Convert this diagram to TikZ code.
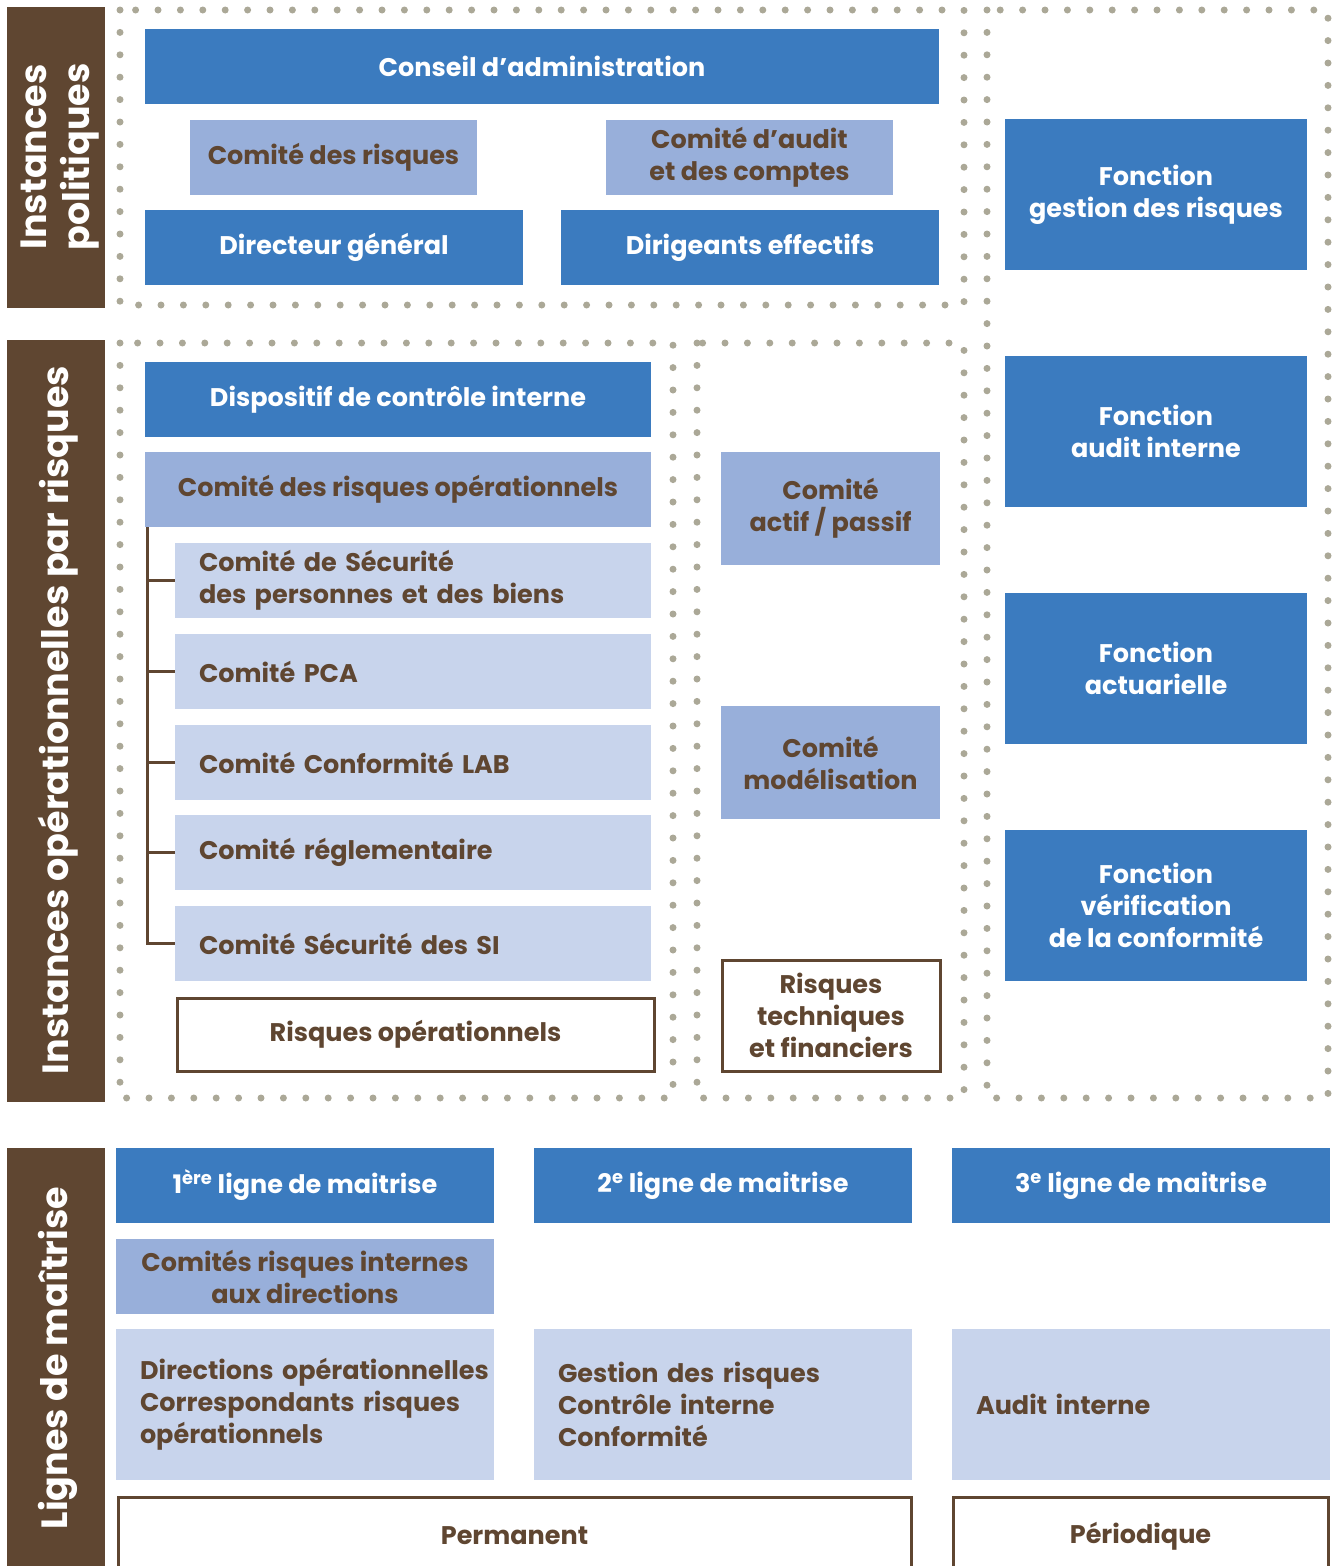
\documentclass[tikz,border=0pt]{standalone}
\usepackage{fontspec}
\setmainfont{Poppins}
\definecolor{dblue}{HTML}{3B7BBF}
\definecolor{mblue}{HTML}{98AFDA}
\definecolor{lblue}{HTML}{C8D4EC}
\definecolor{brn}{HTML}{5F4631}
\definecolor{dotc}{HTML}{ABA897}
\tikzset{
  base/.style={inner sep=0pt, outer sep=0pt, align=center, font=\fontsize{25.5}{32}\selectfont\bfseries},
  dbox/.style={base, fill=dblue, text=white},
  mbox/.style={base, fill=mblue, text=brn},
  lbox/.style={base, fill=lblue, text=brn},
  lboxl/.style={lbox, inner xsep=24pt, align=left},
  obox/.style={base, draw=brn, line width=3pt, fill=white, text=brn},
  bar/.style={fill=brn},
  barlabel/.style={rotate=90, text=white, align=center, font=\fontsize{36.5}{43}\selectfont\bfseries},
  dotframe/.style={draw=dotc, line width=7pt, line cap=round, dash pattern=on 0pt off 22.4pt},
  tree/.style={draw=brn, line width=3pt}
}
\begin{document}
\begin{tikzpicture}[x=1pt,y=-1pt]
\useasboundingbox (0,0) rectangle (1335,1566);
\clip (0,0) rectangle (1335,1566);
% dotted frames
\draw[dotframe] (120,10) rectangle (964,305);
\draw[dotframe] (120,343) rectangle (673,1098);
\draw[dotframe] (697,343) rectangle (964,1098);
\draw[dotframe] (987,10) rectangle (1328,1098);
% side bars
\fill[bar] (7,7) rectangle (105,308);
\fill[bar] (7,340) rectangle (105,1102);
\fill[bar] (7,1148) rectangle (105,1566);
\node[barlabel] (lab1) at (60,157) {Instances\\politiques};
\node[barlabel] (lab2) at (58,720) {Instances opérationnelles par risques};
\node[barlabel] (lab3) at (58,1358) {Lignes de maîtrise};
% instances politiques
\node[dbox, minimum width=794pt, minimum height=75pt] (ca) at (542,66.5) {Conseil d’administration};
\node[mbox, minimum width=287pt, minimum height=75pt] (cr) at (333.5,157.5) {Comité des risques};
\node[mbox, minimum width=287pt, minimum height=75pt] (caud) at (749.5,157.5) {Comité d’audit\\et des comptes};
\node[dbox, minimum width=378pt, minimum height=75pt] (dg) at (334,247.5) {Directeur général};
\node[dbox, minimum width=378pt, minimum height=75pt] (de) at (750,247.5) {Dirigeants effectifs};
% fonctions
\node[dbox, minimum width=302pt, minimum height=151pt] (f1) at (1156,194.5) {Fonction\\gestion des risques};
\node[dbox, minimum width=302pt, minimum height=151pt] (f2) at (1156,431.5) {Fonction\\audit interne};
\node[dbox, minimum width=302pt, minimum height=151pt] (f3) at (1156,668.5) {Fonction\\actuarielle};
\node[dbox, minimum width=302pt, minimum height=151pt] (f4) at (1156,905.5) {Fonction\\vérification\\de la conformité};
% operationnel
\node[dbox, minimum width=506pt, minimum height=75pt] (dci) at (398,399.5) {Dispositif de contrôle interne};
\node[mbox, minimum width=506pt, minimum height=75pt] (cro) at (398,489.5) {Comité des risques opérationnels};
\node[lboxl, text width=428pt, minimum height=75pt] (c1) at (413,580.5) {Comité de Sécurité\\des personnes et des biens};
\node[lboxl, text width=428pt, minimum height=75pt] (c2) at (413,671.5) {Comité PCA};
\node[lboxl, text width=428pt, minimum height=75pt] (c3) at (413,762.5) {Comité Conformité LAB};
\node[lboxl, text width=428pt, minimum height=75pt] (c4) at (413,852.5) {Comité réglementaire};
\node[lboxl, text width=428pt, minimum height=75pt] (c5) at (413,943.5) {Comité Sécurité des SI};
\node[obox, minimum width=477pt, minimum height=73pt] (ro) at (415.5,1034.5) {Risques opérationnels};
\foreach \c in {c1,c2,c3,c4,c5}
  \draw[tree] ([xshift=2pt]cro.south west) |- (\c.west);
\node[mbox, minimum width=219pt, minimum height=113pt] (cap) at (830.5,508.5) {Comité\\actif / passif};
\node[mbox, minimum width=219pt, minimum height=113pt] (cm) at (830.5,762.5) {Comité\\modélisation};
\node[obox, minimum width=218pt, minimum height=111pt] (rtf) at (831,1015.5) {Risques\\techniques\\et financiers};
% lignes de maitrise
\node[dbox, minimum width=378pt, minimum height=75pt] (l1) at (305,1185.5) {1\textsuperscript{ère} ligne de maitrise};
\node[dbox, minimum width=378pt, minimum height=75pt] (l2) at (723,1185.5) {2\textsuperscript{e} ligne de maitrise};
\node[dbox, minimum width=378pt, minimum height=75pt] (l3) at (1141,1185.5) {3\textsuperscript{e} ligne de maitrise};
\node[mbox, minimum width=378pt, minimum height=75pt] (cri) at (305,1276.5) {Comités risques internes\\aux directions};
\node[lboxl, text width=330pt, minimum height=151pt] (d1) at (305,1404.5) {\mbox{Directions opérationnelles}\\\mbox{Correspondants risques}\\opérationnels};
\node[lboxl, text width=330pt, minimum height=151pt] (d2) at (723,1404.5) {\mbox{Gestion des risques}\\\mbox{Contrôle interne}\\Conformité};
\node[lboxl, text width=330pt, minimum height=151pt] (d3) at (1141,1404.5) {Audit interne};
\node[obox, minimum width=793pt, minimum height=78pt] (perm) at (514.5,1536) {Permanent};
\node[obox, minimum width=375pt, minimum height=78pt] (peri) at (1140.5,1536) {Périodique};
\end{tikzpicture}
\end{document}
